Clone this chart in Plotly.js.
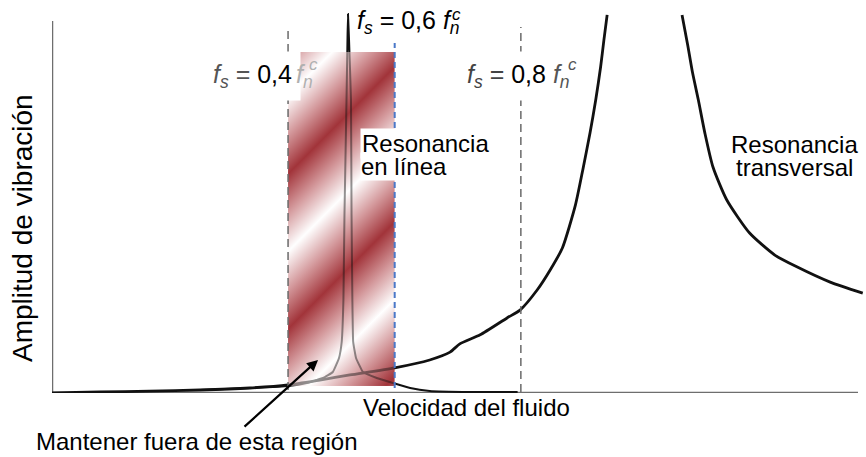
<!DOCTYPE html>
<html><head><meta charset="utf-8">
<script src="https://cdn.plot.ly/plotly-3.0.1.min.js"></script>
<style>html,body{margin:0;padding:0;background:#fff}</style>
</head><body>
<div id="chart" style="width:866px;height:457px"></div>
<script>
// Fluid velocity (0-100, arbitrary) vs vibration amplitude (0-100, arbitrary)
const transLeftX = [0,5.9,12.0,18.2,24.3,29.0,32.9,36.6,42.1,46.4,48.9,50.1,52.6,55.9,57.5,59.6,61.2,62.7,64.3,65.2,66.1,66.8,67.4,67.8,68.2];
const transLeftY = [0,0.25,0.5,0.76,1.27,2.04,3.3,4.6,6.4,8.4,10.4,12.5,14.8,19.1,21.1,26.2,31.3,36.9,47.8,56.7,66.2,74.6,83.0,89.8,96.2];
const transRightX = [77.4,78.1,78.7,79.4,80.2,81.2,82.9,85.7,88.8,91.5,95.6,99.6];
const transRightY = [96.2,88.5,81.4,74.6,66.2,57.5,49.1,40.7,35.1,32.1,28.2,25.4];
const inlineX = [18.2,24.3,29.0,31.3,33.3,34.5,35.26,35.59,35.80,35.93,36.18,36.30,36.36,36.49,36.73,36.80,36.90,37.0,37.35,38.2,39.9,41.9,44.0,46.4,51.4,57.2];
const inlineY = [0.76,1.27,1.78,2.54,3.82,5.34,8.91,12.98,23.66,45.29,74.55,89.82,96.44,89.82,74.55,45.29,23.66,12.98,8.91,5.34,3.82,2.54,1.27,0.51,0.25,0.25];
// f_s = 0.4 and 0.8 f_n^c markers, edge of keep-out region
const fsLineX = [29.0, 57.6];
const regionEdgeX = 42.1;
const regionX = [29.0, 42.1];
const regionY = [1.8, 86.8];

// helpers for layout positioning (pixel -> axis / paper units)
const X = p => (p-52)/8.14;
const Y = p => (393-p)/3.93;
const PX = p => (p-52)/814;
const PY = p => (393-p)/393;

const W = 107, H = 334;
function stripes(){
  return '<svg xmlns="http://www.w3.org/2000/svg" width="'+W+'" height="'+H+'" viewBox="0 0 '+W+' '+H+'">'+
  '<defs><linearGradient id="g" gradientUnits="userSpaceOnUse" x1="61" y1="61" x2="99.75" y2="99.75" spreadMethod="reflect">'+
  '<stop offset="0" stop-color="#a2343a"/><stop offset="0.5" stop-color="#d4999c"/><stop offset="1" stop-color="#ffffff"/>'+
  '</linearGradient></defs><rect width="'+W+'" height="'+H+'" fill="url(#g)"/></svg>';
}
const src = 'data:image/svg+xml;charset=utf-8,' + encodeURIComponent(stripes());

const FONT = "Arial, 'Liberation Sans', sans-serif";
const fs = 24;
const fl = 25;

const traces = [
  {x: transLeftX, y: transLeftY, mode:'lines', line:{color:'#111', width:2.8, shape:'spline', smoothing:0.6}, hoverinfo:'skip'},
  {x: transRightX, y: transRightY, mode:'lines', line:{color:'#111', width:2.8, shape:'spline', smoothing:0.6}, hoverinfo:'skip'},
  {x: inlineX, y: inlineY, mode:'lines', line:{color:'#111', width:2, shape:'spline', smoothing:0.3}, hoverinfo:'skip'}
];

const imgCommon = {source: src, xref:'x', yref:'y', x: regionX[0], y: regionY[1],
  sizex: regionX[1]-regionX[0], sizey: regionY[1]-regionY[0], xanchor:'left', yanchor:'top', sizing:'stretch'};

const shapes = [
  {type:'line', xref:'x', yref:'y', x0:0, x1:0, y0:0, y1:Y(21), line:{color:'#6e6e6e', width:2.5}, layer:'below'},
  {type:'line', xref:'x', yref:'y', x0:0, x1:X(858), y0:0, y1:0, line:{color:'#6e6e6e', width:2.5}, layer:'below'},
  {type:'line', xref:'x', yref:'y', x0:fsLineX[0], x1:fsLineX[0], y0:Y(390), y1:Y(27), line:{color:'#6a6a6a', width:1.5, dash:'8px,5px'}, layer:'above'},
  {type:'line', xref:'x', yref:'y', x0:fsLineX[1], x1:fsLineX[1], y0:Y(392), y1:Y(27), line:{color:'#6a6a6a', width:1.5, dash:'8px,5px'}, layer:'above'},
  {type:'line', xref:'x', yref:'y', x0:regionEdgeX, x1:regionEdgeX, y0:Y(388), y1:Y(43), line:{color:'#4a78c8', width:2, dash:'6px,4px'}, layer:'above'}
];

const ann = (o) => Object.assign({xref:'x', yref:'y', showarrow:false, xanchor:'center', yanchor:'middle', font:{family:FONT, size:fs, color:'#000'}}, o);

const annotations = [
  ann({text:'Amplitud de vibración', xref:'paper', yref:'paper', x:PX(22), y:PY(228), textangle:-90, font:{family:FONT, size:28, color:'#000'}}),
  ann({text:'Velocidad del fluido', xref:'paper', yref:'paper', x:PX(466), y:PY(407)}),
  ann({text:'Mantener fuera de esta región', xref:'paper', yref:'paper', x:PX(197), y:PY(441)}),
  ann({text:'', x:X(318), y:Y(360), ax:X(243), ay:Y(428), axref:'x', ayref:'y', showarrow:true, arrowhead:2, arrowsize:1, arrowwidth:2.2, arrowcolor:'#000'}),
  ann({text:'Resonancia', x:X(360), y:Y(143), xanchor:'left', bgcolor:'#fff', borderpad:1}),
  ann({text:'en línea', x:X(360), y:Y(166), xanchor:'left', bgcolor:'#fff', borderpad:0}),
  ann({text:'Resonancia', x:X(794), y:Y(144)}),
  ann({text:'transversal', x:X(794), y:Y(167)}),
  ann({text:'<i>f</i><sub><i>s</i></sub> = 0,6 <i>f</i><sub><i>n</i></sub>', x:X(355), y:Y(22), xanchor:'left', font:{family:FONT, size:fl, color:'#000'}}),
  ann({text:'<i>c</i>', x:X(456), y:Y(14), font:{family:FONT, size:17, color:'#000'}}),
  ann({text:'<span style="color:#555"><i>f</i><sub><i>s</i></sub> =</span> 0,4', x:X(301), y:Y(76), xanchor:'right', bgcolor:'#fff', borderpad:8, font:{family:FONT, size:fl, color:'#000'}}),
  ann({text:'<i>f</i><sub><i>n</i></sub>', x:X(294), y:Y(76), xanchor:'left', font:{family:FONT, size:fl, color:'#b0b0b0'}}),
  ann({text:'<i>c</i>', x:X(313), y:Y(64), font:{family:FONT, size:17, color:'#b0b0b0'}}),
  ann({text:'<span style="color:#444"><i>f</i><sub><i>s</i></sub> =</span> 0,8 <span style="color:#555"><i>f</i><sub><i>n</i></sub></span>', x:X(458), y:Y(76), xanchor:'left', bgcolor:'#fff', borderpad:8, font:{family:FONT, size:fl, color:'#000'}}),
  ann({text:'<i>c</i>', x:X(572), y:Y(64), font:{family:FONT, size:17, color:'#555'}})
];

const layout = {
  width:866, height:457,
  margin:{l:52, r:0, t:0, b:64},
  paper_bgcolor:'#fff', plot_bgcolor:'#fff',
  showlegend:false,
  xaxis:{range:[0,100], visible:false, fixedrange:true},
  yaxis:{range:[0,100], visible:false, fixedrange:true},
  images:[
    Object.assign({layer:'below', opacity:1}, imgCommon),
    Object.assign({layer:'above', opacity:0.55}, imgCommon)
  ],
  shapes: shapes,
  annotations: annotations
};

Plotly.newPlot('chart', traces, layout, {displayModeBar:false, staticPlot:true});
</script>
</body></html>
